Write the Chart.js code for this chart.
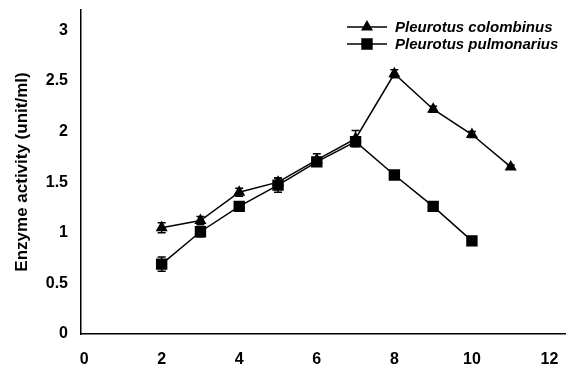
<!DOCTYPE html>
<html>
<head>
<meta charset="utf-8">
<script src="https://cdn.jsdelivr.net/npm/chart.js@4/dist/chart.umd.min.js"></script>
<style>
  html, body { margin: 0; padding: 0; background: #fff; }
  #wrap { width: 572px; height: 371px; }
</style>
</head>
<body>
<div id="wrap"><canvas id="c" width="572" height="371"></canvas></div>
<script>
// ---- data ----
const colombinusX = [2, 3, 4, 5, 6, 7, 8, 9, 10, 11];
const colombinusY = [1.05, 1.12, 1.40, 1.50, 1.72, 1.93, 2.57, 2.22, 1.97, 1.65];
const colombinusErr = [0.05, 0.04, 0.04, 0.04, 0.06, 0.08, 0.04, 0.03, 0.03, 0.02];

const pulmonariusX = [2, 3, 4, 5, 6, 7, 8, 9, 10];
const pulmonariusY = [0.69, 1.01, 1.26, 1.47, 1.70, 1.90, 1.57, 1.26, 0.92];
const pulmonariusErr = [0.07, 0.05, 0.04, 0.07, 0.03, 0.04, 0.02, 0.02, 0.02];

const xTicks = [0, 2, 4, 6, 8, 10, 12];
const yTicks = [0, 0.5, 1, 1.5, 2, 2.5, 3];
const seriesNames = ['Pleurotus colombinus', 'Pleurotus pulmonarius'];
const yTitle = 'Enzyme activity (unit/ml)';

function toPoints(xs, ys) { return xs.map((x, i) => ({ x: x, y: ys[i] })); }

const FONT = '"Liberation Sans", Arial, sans-serif';

const errorBarPlugin = {
  id: 'errorBars',
  afterDatasetsDraw(chart) {
    const ctx = chart.ctx;
    const xs = chart.scales.x, ys = chart.scales.y;
    ctx.save();
    ctx.strokeStyle = '#000';
    ctx.lineWidth = 1.5;
    chart.data.datasets.forEach(ds => {
      ds.data.forEach((p, i) => {
        const e = ds.errors[i];
        const px = xs.getPixelForValue(p.x);
        const top = ys.getPixelForValue(p.y + e);
        const bot = ys.getPixelForValue(p.y - e);
        ctx.beginPath();
        ctx.moveTo(px, top); ctx.lineTo(px, bot);
        ctx.moveTo(px - 4, top); ctx.lineTo(px + 4, top);
        ctx.moveTo(px - 4, bot); ctx.lineTo(px + 4, bot);
        ctx.stroke();
      });
    });
    ctx.restore();
  }
};

const legendPlugin = {
  id: 'customLegend',
  afterDraw(chart) {
    const ctx = chart.ctx;
    ctx.save();
    const x0 = 347, x1 = 387, tx = 395;
    const rows = [27, 44];
    chart.data.datasets.forEach((ds, i) => {
      const y = rows[i];
      ctx.strokeStyle = '#000';
      ctx.lineWidth = 1.5;
      ctx.beginPath(); ctx.moveTo(x0, y); ctx.lineTo(x1, y); ctx.stroke();
      ctx.fillStyle = '#000';
      Chart.helpers.drawPoint(ctx, {
        pointStyle: ds.pointStyle, radius: ds.pointRadius, borderWidth: 1, rotation: 0
      }, (x0 + x1) / 2, y);
      ctx.fillStyle = '#000';
      ctx.font = 'italic bold 15px ' + FONT;
      ctx.textBaseline = 'middle';
      ctx.textAlign = 'left';
      ctx.fillText(ds.label, tx, y + 1);
    });
    ctx.restore();
  }
};

new Chart(document.getElementById('c'), {
  type: 'line',
  data: {
    datasets: [
      {
        label: seriesNames[0],
        data: toPoints(colombinusX, colombinusY),
        errors: colombinusErr,
        borderColor: '#000', backgroundColor: '#000',
        borderWidth: 1.5, pointStyle: 'triangle', pointRadius: 5.5,
        pointBackgroundColor: '#000', pointBorderColor: '#000', tension: 0
      },
      {
        label: seriesNames[1],
        data: toPoints(pulmonariusX, pulmonariusY),
        errors: pulmonariusErr,
        borderColor: '#000', backgroundColor: '#000',
        borderWidth: 1.5, pointStyle: 'rect', pointRadius: 7,
        pointBackgroundColor: '#000', pointBorderColor: '#000', tension: 0
      }
    ]
  },
  options: {
    responsive: false,
    animation: false,
    layout: { autoPadding: false, padding: { top: 10, right: 7, left: 0, bottom: 0 } },
    plugins: { legend: { display: false }, tooltip: { enabled: false } },
    scales: {
      x: {
        type: 'linear', min: -0.08, max: 12.4,
        grid: { display: false, drawTicks: false },
        border: { display: true, color: '#000', width: 1.5 },
        ticks: { color: '#000', font: { family: FONT, size: 16, weight: 'bold' }, padding: 16, maxRotation: 0,
                 callback: v => String(v) },
        afterBuildTicks: s => { s.ticks = xTicks.map(v => ({ value: v })); },
        afterFit: s => { s.height = 37; s.paddingLeft = 0; s.paddingRight = 0; }
      },
      y: {
        type: 'linear', min: 0, max: 3.2,
        grid: { display: false, drawTicks: false },
        border: { display: true, color: '#000', width: 1.5 },
        ticks: { color: '#000', font: { family: FONT, size: 16, weight: 'bold' }, padding: 13,
                 callback: v => String(v) },
        afterBuildTicks: s => { s.ticks = yTicks.map(v => ({ value: v })); },
        afterFit: s => { s.width = 81; s.paddingTop = 0; s.paddingBottom = 0; },
        title: { display: true, text: yTitle, color: '#000', font: { family: FONT, size: 17, weight: 'bold' }, padding: { top: 12, bottom: 0 } }
      }
    }
  },
  plugins: [errorBarPlugin, legendPlugin]
});
</script>
</body>
</html>
